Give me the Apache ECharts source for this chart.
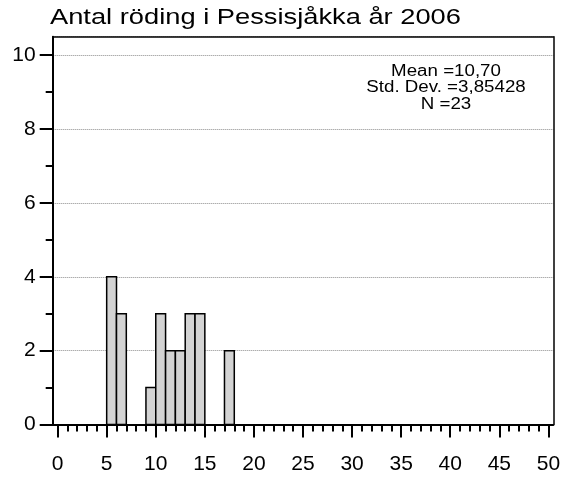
<!DOCTYPE html>
<html>
<head>
<meta charset="utf-8">
<script src="https://cdn.jsdelivr.net/npm/echarts@6/dist/echarts.min.js"></script>
<style>html,body{margin:0;padding:0;background:#fff}#c{width:571px;height:477px}</style>
</head>
<body>
<div id="c"></div>
<script>
// Data
const chartTitle = 'Antal röding i Pessisjåkka år 2006';
const binStarts = [5, 6, 9, 10, 11, 12, 13, 14, 17];
const binCounts = [4, 3, 1, 3, 2, 2, 3, 3, 2];
const binWidth = 1;
const statsLines = ['Mean =10,70', 'Std. Dev. =3,85428', 'N =23'];
const xRange = [0, 50];
const yRange = [0, 10];

const FONT = '"Liberation Sans", Arial, sans-serif';
const chart = echarts.init(document.getElementById('c'), null, {renderer: 'canvas'});

const seriesData = binStarts.map((s, i) => [s, binCounts[i]]);

const option = {
  animation: false,
  backgroundColor: '#fff',
  grid: [
    {left: 52.7, right: 17.7, top: 36.7, bottom: 52.5, containLabel: false},
    {left: 57.6, right: 22.6, top: 55.2, bottom: 52.5, containLabel: false}
  ],
  xAxis: [
    {gridIndex: 0, type: 'value', min: xRange[0] - 0.5, max: xRange[1] + 0.5, position: 'bottom',
     axisLine: {show: true, onZero: false, lineStyle: {color: '#000', width: 2}}, axisTick: {show: false},
     axisLabel: {show: false}, splitLine: {show: false}},
    {gridIndex: 0, type: 'value', min: xRange[0] - 0.5, max: xRange[1] + 0.5, position: 'top',
     axisLine: {show: true, onZero: false, lineStyle: {color: '#000', width: 1.5}}, axisTick: {show: false},
     axisLabel: {show: false}, splitLine: {show: false}},
    {gridIndex: 1, type: 'value', min: xRange[0], max: xRange[1], interval: 5, position: 'bottom',
     axisLine: {show: false, onZero: false},
     axisTick: {show: true, length: 13, lineStyle: {color: '#000', width: 2}},
     minorTick: {show: true, splitNumber: 5, length: 7, lineStyle: {color: '#000', width: 2}},
     axisLabel: {show: true, margin: 29, fontFamily: FONT, fontSize: 21, color: '#000'},
     splitLine: {show: false}}
  ],
  yAxis: [
    {gridIndex: 0, type: 'value', min: yRange[0], max: yRange[1] + 0.5, interval: 2, position: 'left',
     axisLine: {show: true, onZero: false, lineStyle: {color: '#000', width: 2}}, axisTick: {show: false},
     axisLabel: {show: false},
     splitLine: {show: true, lineStyle: {color: '#8c8c8c', width: 1, type: [1, 1]}}},
    {gridIndex: 0, type: 'value', min: yRange[0], max: yRange[1] + 0.5, position: 'right',
     axisLine: {show: true, onZero: false, lineStyle: {color: '#000', width: 1.5}}, axisTick: {show: false},
     axisLabel: {show: false}, splitLine: {show: false}},
    {gridIndex: 1, type: 'value', min: yRange[0], max: yRange[1], interval: 2, position: 'left', offset: 4.9,
     axisLine: {show: false, onZero: false},
     axisTick: {show: true, length: 13, lineStyle: {color: '#000', width: 2}},
     minorTick: {show: true, splitNumber: 2, length: 7, lineStyle: {color: '#000', width: 2}},
     axisLabel: {show: true, margin: 17, fontFamily: FONT, fontSize: 21, color: '#000', padding: [6, 0, 0, 0]},
     splitLine: {show: false}}
  ],
  series: [{
    type: 'custom',
    xAxisIndex: 2, yAxisIndex: 2,
    data: seriesData,
    renderItem: function (params, api) {
      const x0 = api.value(0), y = api.value(1);
      const p0 = api.coord([x0, y]);
      const p1 = api.coord([x0 + binWidth, 0]);
      return {
        type: 'rect',
        shape: {x: p0[0], y: p0[1], width: p1[0] - p0[0], height: p1[1] - p0[1]},
        style: {fill: '#d3d3d3', stroke: '#000', lineWidth: 1.5}
      };
    }
  }],
  graphic: [
    {
      type: 'text', x: 50, y: 7, scaleX: 1.24,
      style: {text: chartTitle, textAlign: 'left', textVerticalAlign: 'top',
              font: '22px ' + FONT, fill: '#000'}
    },
    {
      type: 'text', x: 446, y: 63, scaleX: 1.17,
      style: {text: statsLines.join('\n'), textAlign: 'center', textVerticalAlign: 'top',
              font: '16px ' + FONT, lineHeight: 16.7, fill: '#000'}
    }
  ]
};
chart.setOption(option);
</script>
</body>
</html>
